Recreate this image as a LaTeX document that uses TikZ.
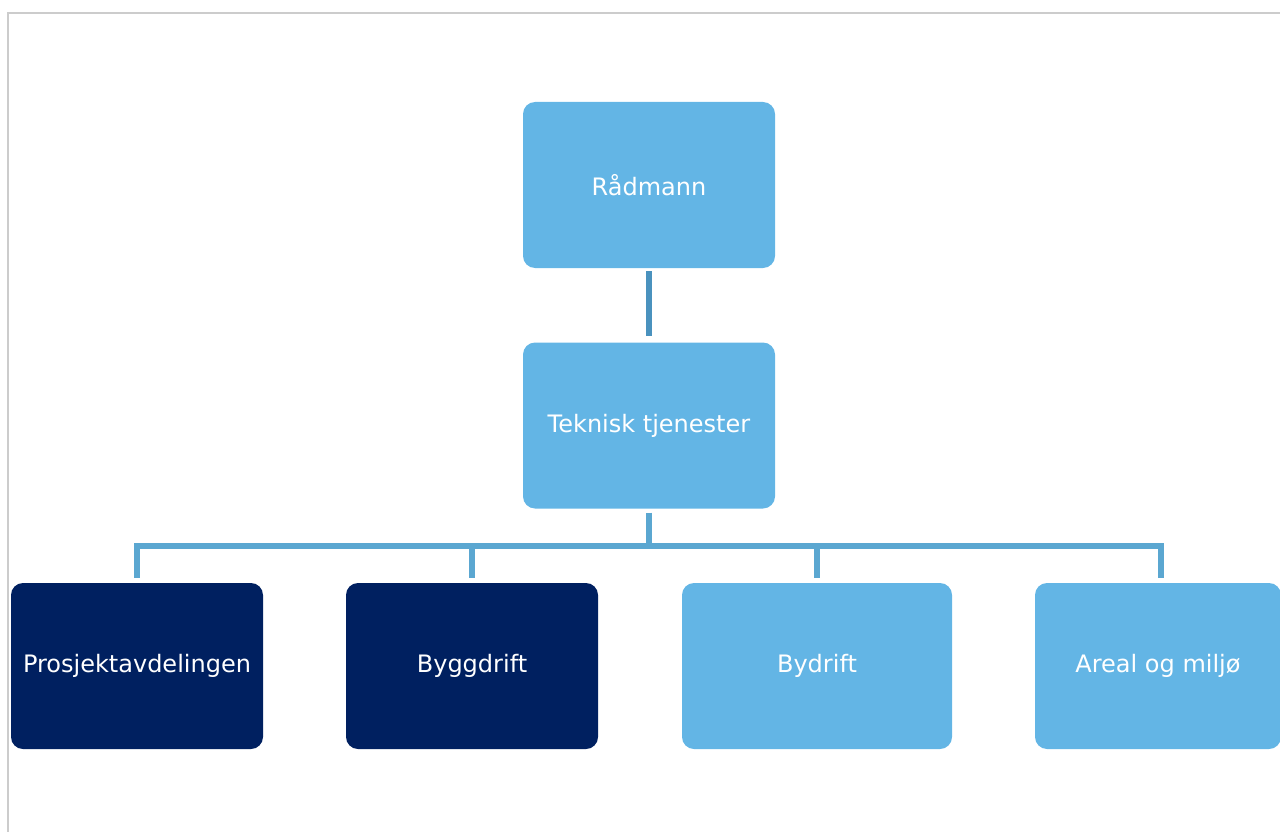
\documentclass[tikz,border=0pt]{standalone}
\usepackage{fontspec}
\setmainfont{DejaVu Sans}
\definecolor{unitblue}{HTML}{63B5E5}
\definecolor{unitnavy}{HTML}{002060}
\definecolor{linkblue}{HTML}{5BA7D1}
\definecolor{linkdark}{HTML}{4A92BE}
\definecolor{framegray}{HTML}{CCCCCC}
\tikzset{
  unit/.style={rounded corners=12pt, fill=unitblue, text=white, minimum width=252pt,
    minimum height=166pt, inner sep=0pt, font=\fontsize{24}{29}\selectfont},
  unitdark/.style={unit, fill=unitnavy},
  link/.style={draw=linkblue, line width=6pt},
}
\begin{document}
\begin{tikzpicture}[x=1pt, y=-1pt]
	\useasboundingbox (0,0) rectangle (1280,832);
	% frame
	\draw[framegray, line width=2pt] (8,832) -- (8,13) -- (1282,13);
	
	\node[unit] (rad) at (649, 185) {Rådmann};
	\node[unit] (tek) at (649, 425.5) {Teknisk tjenester};
	
	\node[unitdark] (prosj) at (137, 666) {Prosjektavdelingen};
	\node[unitdark] (bygg) at (472, 666) {Byggdrift};
	\node[unit, minimum width=270pt] (bydrift) at (817, 666) {Bydrift};
	\node[unit, minimum width=246pt] (areal) at (1158, 666) {Areal og miljø};
	
	% connectors
	\draw[link, draw=linkdark, shorten <=3pt, shorten >=6pt] (rad) -- (tek);
	\coordinate (bus) at (649, 546);
	\draw[link] ([yshift=-4pt]tek.south) -- (bus);
	\draw[link] (bus) -| ([yshift=5pt]prosj.north);
	\draw[link] (bus) -| ([yshift=5pt]bygg.north);
	\draw[link] (bus) -| ([yshift=5pt]bydrift.north);
	\draw[link] (bus) -| ([xshift=3pt, yshift=5pt]areal.north);
\end{tikzpicture}
\end{document}
